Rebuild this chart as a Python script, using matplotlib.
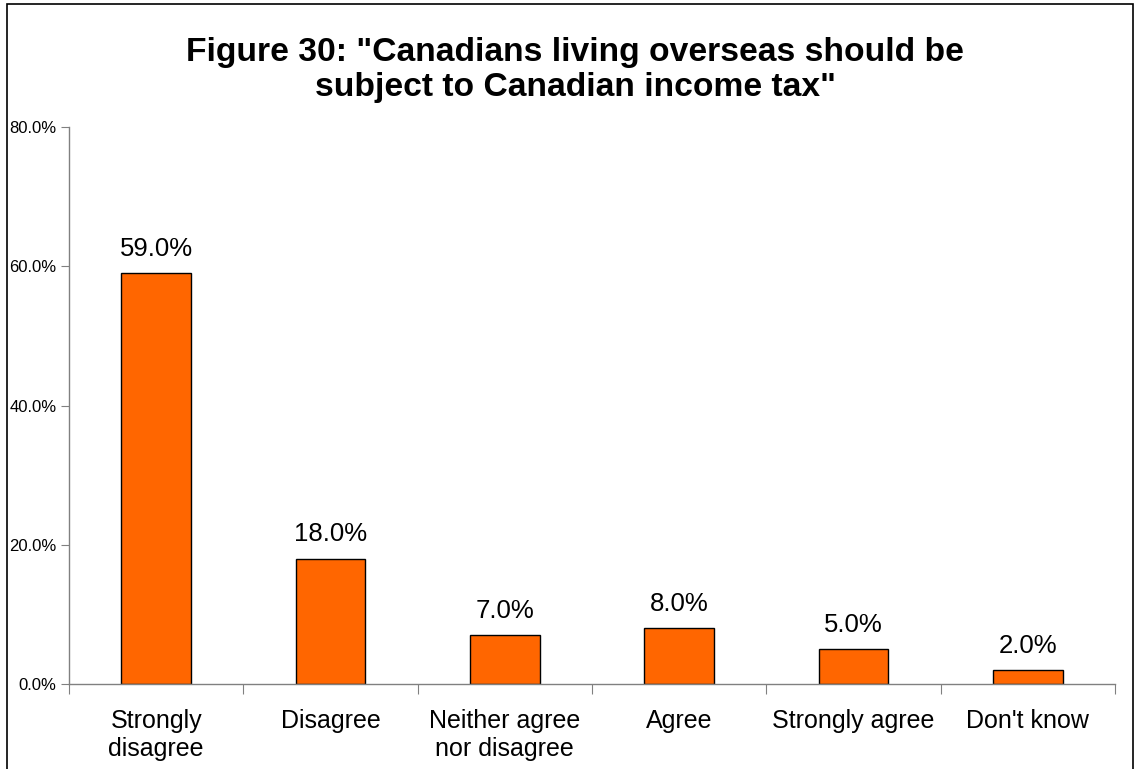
import matplotlib
matplotlib.use("Agg")
import matplotlib.pyplot as plt
import numpy as np
from matplotlib.patches import Rectangle
from matplotlib.ticker import FuncFormatter

# Chart data
categories = ["Strongly\ndisagree", "Disagree", "Neither agree\nnor disagree",
              "Agree", "Strongly agree", "Don't know"]
values = [59.0, 18.0, 7.0, 8.0, 5.0, 2.0]
y_ticks = [0, 20, 40, 60, 80]

plt.rcParams['font.family'] = ['Liberation Sans', 'DejaVu Sans']

fig = plt.figure(figsize=(11.35, 7.69), dpi=100)
W, H = 1135, 769

# outer frame of the chart
fig.patches.append(Rectangle((7 / W, -0.05), (1133 - 7) / W, 1.05 - 4 / H,
                             transform=fig.transFigure, fill=False,
                             edgecolor='black', linewidth=1.2))

ax = fig.add_axes([69 / W, 1 - 684 / H, (1115 - 69) / W, (684 - 127) / H])

x = np.arange(len(categories))
ax.bar(x, values, width=0.4, color='#FF6600', edgecolor='black', linewidth=1.0)

for xi, v in zip(x, values):
    ax.text(xi, v + 1.75, f"{v:.1f}%", ha='center', va='bottom', fontsize=18.5)

ax.set_xlim(-0.5, len(categories) - 0.5)
ax.set_ylim(0, 80)
ax.set_yticks(y_ticks)
ax.yaxis.set_major_formatter(FuncFormatter(lambda v, p: f"{v:.1f}%"))
ax.tick_params(axis='y', labelsize=12, length=6, color='#808080', pad=3)

# x ticks at category boundaries, labels centred under bars
ax.set_xticks(np.arange(len(categories) + 1) - 0.5)
ax.set_xticklabels([])
ax.set_xticks(x, minor=True)
ax.set_xticklabels(categories, minor=True, fontsize=18, linespacing=1.22)
ax.tick_params(axis='x', which='major', length=7, color='#808080')
ax.tick_params(axis='x', which='minor', length=0, pad=18)

for side in ['top', 'right']:
    ax.spines[side].set_visible(False)
for side in ['left', 'bottom']:
    ax.spines[side].set_color('#808080')
    ax.spines[side].set_linewidth(1.0)

fig.text(575 / W, 1 - 70 / H,
         'Figure 30: "Canadians living overseas should be\nsubject to Canadian income tax"',
         ha='center', va='center', fontsize=24.2, fontweight='bold', linespacing=1.2)

fig.savefig("out.png", dpi=100)
